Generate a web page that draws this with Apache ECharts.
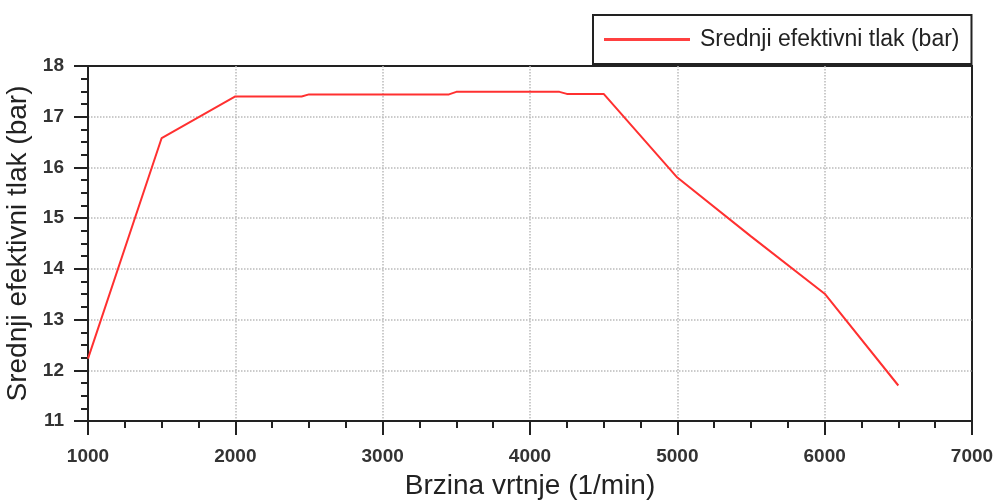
<!DOCTYPE html>
<html>
<head>
<meta charset="utf-8">
<script src="https://cdn.jsdelivr.net/npm/echarts@6/dist/echarts.min.js"></script>
<style>
  html, body { margin: 0; padding: 0; background: #fff; }
  #chart { width: 998px; height: 501px; }
</style>
</head>
<body>
<div id="chart"></div>
<script>
// brzina vrtnje (1/min) i srednji efektivni tlak (bar), ocitano sa slike
var rpm = [1000, 1500, 2000, 2450, 2500, 3450, 3500, 4200, 4250, 4500, 5000, 5500, 6000, 6500];
var pressure = [12.23, 16.58, 17.40, 17.40, 17.44, 17.44, 17.49, 17.49, 17.45, 17.45, 15.80, 14.64, 13.51, 11.70];
var seriesName = 'Srednji efektivni tlak (bar)';

var chart = echarts.init(document.getElementById('chart'));

var points = [];
for (var i = 0; i < rpm.length; i++) {
  points.push([rpm[i], pressure[i]]);
}

var fontFam = '"Liberation Sans", Arial, sans-serif';

var option = {
  animation: false,
  textStyle: { fontFamily: fontFam },
  legend: {
    data: [seriesName],
    left: 593,
    top: 15,
    padding: [13, 12, 13, 11],
    borderColor: '#222',
    borderWidth: 2,
    backgroundColor: '#fff',
    itemWidth: 86,
    itemHeight: 14,
    icon: 'path://M0,5.5 L86,5.5 L86,8.5 L0,8.5 Z',
    textStyle: { fontSize: 23, color: '#222', fontFamily: fontFam, padding: [0, 0, 0, 5] }
  },
  grid: {
    left: 88,
    right: 26,
    top: 66,
    bottom: 80,
    containLabel: false,
    outerBoundsMode: 'none',
    show: true,
    borderColor: '#222',
    borderWidth: 2
  },
  xAxis: {
    type: 'value',
    min: 1000,
    max: 7000,
    interval: 1000,
    name: 'Brzina vrtnje (1/min)',
    nameLocation: 'middle',
    nameGap: 51,
    nameTextStyle: { fontSize: 28, color: '#222' },
    axisLine: { lineStyle: { color: '#222', width: 2 } },
    axisTick: { length: 14, lineStyle: { color: '#222', width: 2 } },
    minorTick: { show: true, splitNumber: 4, length: 7, lineStyle: { color: '#222', width: 2 } },
    axisLabel: { fontSize: 19, fontWeight: 'bold', color: '#333', margin: 26, formatter: function (v) { return String(v); } },
    splitLine: { show: true, showMinLine: false, showMaxLine: false, lineStyle: { color: '#bbb', type: 'dotted', width: 1.5 } }
  },
  yAxis: {
    type: 'value',
    min: 11,
    max: 18,
    interval: 1,
    name: 'Srednji efektivni tlak (bar)',
    nameLocation: 'middle',
    nameGap: 43,
    nameTextStyle: { fontSize: 28, color: '#222' },
    axisLine: { show: true, lineStyle: { color: '#222', width: 2 } },
    axisTick: { show: true, length: 14, lineStyle: { color: '#222', width: 2 } },
    minorTick: { show: true, splitNumber: 4, length: 7, lineStyle: { color: '#222', width: 2 } },
    axisLabel: { fontSize: 19, fontWeight: 'bold', color: '#333', margin: 24 },
    splitLine: { show: true, showMinLine: false, showMaxLine: false, lineStyle: { color: '#bbb', type: 'dotted', width: 1.5 } }
  },
  series: [
    {
      name: seriesName,
      type: 'line',
      data: points,
      showSymbol: false,
      symbol: 'none',
      color: '#ff4040',
      lineStyle: { color: '#ff3030', width: 2 }
    }
  ]
};

chart.setOption(option);
</script>
</body>
</html>
